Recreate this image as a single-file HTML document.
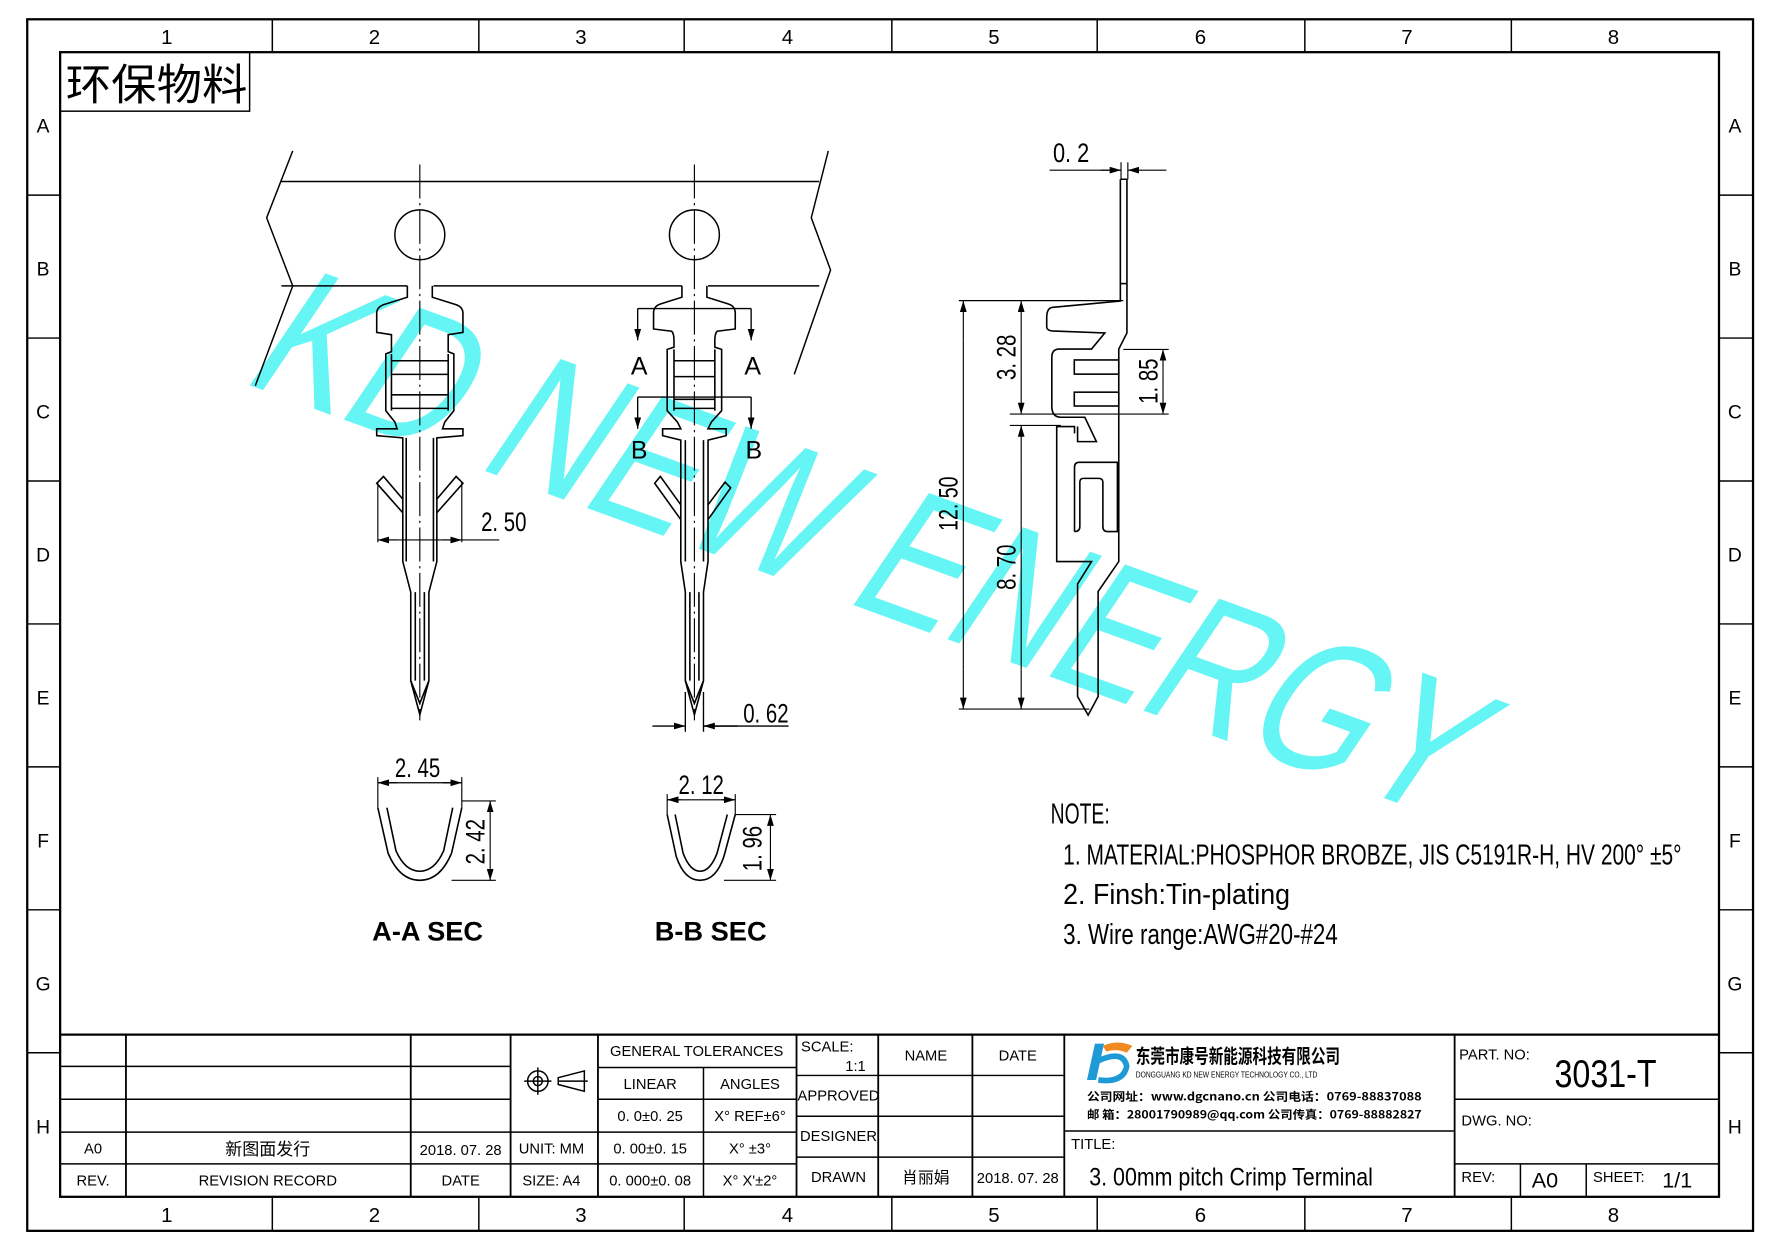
<!DOCTYPE html>
<html><head><meta charset="utf-8"><style>
html,body{margin:0;padding:0;background:#fff;}
svg{display:block;}
text{font-family:"Liberation Sans Narrow","Liberation Sans","Noto Sans CJK SC",sans-serif;fill:#000;}
.cn{font-family:"Noto Sans CJK SC","WenQuanYi Zen Hei",sans-serif;}
</style></head><body>
<svg width="1778" height="1249" viewBox="0 0 1567 1101" preserveAspectRatio="none" xmlns="http://www.w3.org/2000/svg">
<defs>
<marker id="ar" viewBox="0 0 10 6" refX="10" refY="3" markerWidth="10" markerHeight="6" orient="auto" markerUnits="userSpaceOnUse"><path d="M0,0 L10,3 L0,6 z" fill="#000"/></marker>
</defs>
<rect width="1567" height="1101" fill="#fff"/>
<g transform="translate(210,336) rotate(20) skewX(-14)">
<text x="0" y="0" font-size="168" textLength="1125" lengthAdjust="spacingAndGlyphs" style="font-family:'Liberation Sans',sans-serif;fill:#66f5f5">KD NEW ENERGY</text>
</g>
<g fill="none" stroke="#000" stroke-width="1.3">
<rect x="24" y="17" width="1521" height="1068" stroke-width="2"/>
<rect x="53" y="46" width="1462" height="1009" stroke-width="2"/>
<path d="M240,17V46M422,17V46M603,17V46M786,17V46M967,17V46M1150,17V46M1332,17V46"/>
<path d="M240,1055V1085M422,1055V1085M603,1055V1085M786,1055V1085M967,1055V1085M1150,1055V1085M1332,1055V1085"/>
<path d="M24,172H53M24,298H53M24,424H53M24,550H53M24,676H53M24,802H53M24,928H53"/>
<path d="M1515,172H1545M1515,298H1545M1515,424H1545M1515,550H1545M1515,676H1545M1515,802H1545M1515,928H1545"/>
<rect x="53" y="46" width="167" height="52"/>
<path d="M53,912H1515" stroke-width="2"/>
<path d="M111,912V1055M362,912V1055M450,912V1055M527,912V1055M702,912V1055M774,912V1055M857,912V1055M938,912V1055M1282,912V1055" stroke-width="1.6"/>
<path d="M53,940H450M53,969H450M53,998H527M53,1026H702"/>
<path d="M527,941H702M527,969H702M527,998H702M620,941V1055"/>
<path d="M702,948H938M702,984H938M702,1020H938"/>
<path d="M938,997H1282M1282,969H1515M1282,1026H1515M1340,1026V1055M1398,1026V1055"/>
<circle cx="474" cy="953" r="9"/><circle cx="474" cy="953" r="4"/><path d="M462,953H486M474,941V965M492,950L515,944V962L492,956Z M492,953H518"/>
<path d="M248,160H722"/>
<path d="M248,252H359M382,252H601M624,252H722"/>
<path d="M258,133L235,192L258,252L225,340"/>
<path d="M730,133L715,192L732,238L700,330"/>
<circle cx="370" cy="207" r="22"/><circle cx="612" cy="207" r="22"/>
</g>
<g stroke="#000" stroke-width="1" stroke-dasharray="30,4,2,4" fill="none">
<path d="M370,145V635M612,145V635"/>
</g>
<g fill="none" stroke="#000" stroke-width="1.4" transform="translate(370,0)">
<path d="M11,252V262L30,268Q38,270 38,276V293L25,295V310L30,312V362L22,372L20,378H38V384L15,386V495L8,522V600L0,630L-8,600V522L-15,495V386L-38,384V378H-20L-22,372L-30,362V312L-25,310V295L-38,293V276Q-38,270 -30,268L-11,262V252"/>
<path d="M-25,312V362M25,312V362M-25,318H25M-25,330H25M-25,348H25M-25,360H25"/>
<path d="M15,440L32,420L38,426L15,452M-15,440L-32,420L-38,426L-15,452"/>
<path d="M-12,386V495M12,386V495M-4,522V600M4,522V600M-8,600L0,620L8,600"/>
</g>
<g fill="none" stroke="#000" stroke-width="1">
<path d="M333,425V478M407,425V478"/>
<path d="M350,476H333" marker-end="url(#ar)"/><path d="M390,476H407" marker-end="url(#ar)"/>
<path d="M407,476H440"/><path d="M333,476H407"/>
</g>
<g fill="none" stroke="#000" stroke-width="1.4" transform="translate(612,0)">
<path d="M11,252V262L30,268Q36,270 36,276V290L20,292Q18,294 18,300V306L24,308V362L15,372L12,378H28V384L12,388V495L8,522V600L0,630L-8,600V522L-12,495V388L-28,384V378H-12L-15,372L-24,362V308L-18,306V300Q-18,294 -20,292L-36,290V276Q-36,270 -30,268L-11,262V252"/>
<path d="M-18,308V362M18,308V362M-18,318H18M-18,332H18M-18,352H18M-18,360H18"/>
<path d="M12,445L27,425L32,430L12,458M-12,445L-30,420L-35,426L-12,458"/>
<path d="M-8,388V495M8,388V495M-4,522V600M4,522V600M-8,600L0,620L8,600"/>
</g>
<g fill="none" stroke="#000" stroke-width="1.2">
<path d="M562,272H662"/><path d="M562,272V300" marker-end="url(#ar)"/><path d="M662,272V300" marker-end="url(#ar)"/>
<path d="M562,350H662"/><path d="M562,350V378" marker-end="url(#ar)"/><path d="M662,350V378" marker-end="url(#ar)"/>
<path d="M604,610V645M620,610V645"/>
<path d="M575,640H604" marker-end="url(#ar)"/><path d="M650,640H620" marker-end="url(#ar)"/><path d="M620,640H695"/>
</g>
<g fill="none" stroke="#000" stroke-width="1.4">
<path d="M987.4,158H993.2V293.5L986,307.7V495L967.8,521.4V614L959,630.4L949.7,614V514.8L962,495H931.3V376H947V382M987.4,158V265.4L927,271Q922.5,272 922.5,280V288Q922.5,292 929.8,291.8L973.7,293.5L962,307.7H933Q927,308 927,315V358Q927,367.8 935,367.8H956.1L966.3,389.3H949.7V376"/>
<path d="M987.4,250H993.2"/>
<rect x="946.8" y="317.3" width="39.2" height="12.5"/>
<rect x="946.8" y="345.7" width="39.2" height="12.2"/>
<path d="M947,468.6V412Q947,407.5 951,407.5H984.8V468.6H976Q972,468.6 972,464V425Q972,421.7 968,421.7H955Q951.7,421.7 951.7,425V464Q951.7,468.6 947,468.6 M984.8,407.5H986"/>
</g>
<g fill="none" stroke="#000" stroke-width="1">
<path d="M845,265H990M845,625H960M890,365H1030M890,375H935M990,308H1030"/>
<path d="M849,300V265" marker-end="url(#ar)"/><path d="M849,590V625" marker-end="url(#ar)"/><path d="M849,300V590"/>
<path d="M900,300V265" marker-end="url(#ar)"/><path d="M900,330V365" marker-end="url(#ar)"/><path d="M900,300V330"/>
<path d="M900,410V375" marker-end="url(#ar)"/><path d="M900,590V625" marker-end="url(#ar)"/><path d="M900,410V590"/>
<path d="M1025,330V308" marker-end="url(#ar)"/><path d="M1025,345V365" marker-end="url(#ar)"/><path d="M1025,330V345"/>
<path d="M988,143V158M994,143V158"/>
<path d="M925,150H988"/><path d="M970,150H988" marker-end="url(#ar)"/><path d="M1028,150H994" marker-end="url(#ar)"/>
</g>
<g fill="none" stroke="#000" stroke-width="1.4">
<path d="M333,712L342,752Q352,776 370,776Q388,776 398,752L407,712"/>
<path d="M341,712L349,750Q357,768 370,768Q383,768 391,750L399,712"/>
<path d="M588,718L596,755Q603,776 617,776Q631,776 638,755L648,718"/>
<path d="M595,718L602,752Q608,768 617,768Q626,768 632,752L641,718"/>
</g>
<g fill="none" stroke="#000" stroke-width="1">
<path d="M333,685V712M407,685V712M333,690H407"/><path d="M350,690H333" marker-end="url(#ar)"/><path d="M390,690H407" marker-end="url(#ar)"/>
<path d="M407,706H437M398,776H437"/><path d="M432,730V706" marker-end="url(#ar)"/><path d="M432,750V776" marker-end="url(#ar)"/><path d="M432,730V750"/>
<path d="M588,700V718M648,700V718M588,705H648"/><path d="M600,705H588" marker-end="url(#ar)"/><path d="M636,705H648" marker-end="url(#ar)"/>
<path d="M648,718H684M638,776H684"/><path d="M679,740V718" marker-end="url(#ar)"/><path d="M679,755V776" marker-end="url(#ar)"/><path d="M679,740V755"/>
</g>
<g font-size="18" text-anchor="middle">
<text x="147" y="39">1</text><text x="330" y="39">2</text><text x="512" y="39">3</text><text x="694" y="39">4</text><text x="876" y="39">5</text><text x="1058" y="39">6</text><text x="1240" y="39">7</text><text x="1422" y="39">8</text>
<text x="147" y="1077">1</text><text x="330" y="1077">2</text><text x="512" y="1077">3</text><text x="694" y="1077">4</text><text x="876" y="1077">5</text><text x="1058" y="1077">6</text><text x="1240" y="1077">7</text><text x="1422" y="1077">8</text>
</g>
<g font-size="17" text-anchor="middle">
<text x="38" y="117">A</text><text x="38" y="243">B</text><text x="38" y="369">C</text><text x="38" y="495">D</text><text x="38" y="621">E</text><text x="38" y="747">F</text><text x="38" y="873">G</text><text x="38" y="999">H</text>
<text x="1529" y="117">A</text><text x="1529" y="243">B</text><text x="1529" y="369">C</text><text x="1529" y="495">D</text><text x="1529" y="621">E</text><text x="1529" y="747">F</text><text x="1529" y="873">G</text><text x="1529" y="999">H</text>
</g>
<text x="58" y="88" font-size="38" class="cn" textLength="160" lengthAdjust="spacingAndGlyphs">环保物料</text>
<g font-size="24">
<text x="424" y="468" textLength="40" lengthAdjust="spacingAndGlyphs">2. 50</text>
<text x="655" y="637" textLength="40" lengthAdjust="spacingAndGlyphs">0. 62</text>
<text x="348" y="685" textLength="40" lengthAdjust="spacingAndGlyphs">2. 45</text>
<text x="598" y="700" textLength="40" lengthAdjust="spacingAndGlyphs">2. 12</text>
<text x="928" y="143" textLength="32" lengthAdjust="spacingAndGlyphs">0. 2</text>
<text transform="translate(427,762) rotate(-90)" textLength="40" lengthAdjust="spacingAndGlyphs">2. 42</text>
<text transform="translate(671,768) rotate(-90)" textLength="40" lengthAdjust="spacingAndGlyphs">1. 96</text>
<text transform="translate(844,468) rotate(-90)" textLength="48" lengthAdjust="spacingAndGlyphs">12. 50</text>
<text transform="translate(895,335) rotate(-90)" textLength="40" lengthAdjust="spacingAndGlyphs">3. 28</text>
<text transform="translate(895,520) rotate(-90)" textLength="40" lengthAdjust="spacingAndGlyphs">8. 70</text>
<text transform="translate(1020,356) rotate(-90)" textLength="40" lengthAdjust="spacingAndGlyphs">1. 85</text>
<text x="556" y="330" font-size="22">A</text><text x="656" y="330" font-size="22">A</text>
<text x="556" y="404" font-size="22">B</text><text x="657" y="404" font-size="22">B</text>
</g>
<g font-size="24" style="font-family:'Liberation Serif',serif;font-weight:bold">
<text x="328" y="829">A-A SEC</text><text x="577" y="829">B-B SEC</text>
</g>
<g font-size="25">
<text x="926" y="726" textLength="52" lengthAdjust="spacingAndGlyphs">NOTE:</text>
<text x="937" y="762" textLength="545" lengthAdjust="spacingAndGlyphs">1. MATERIAL:PHOSPHOR BROBZE, JIS C5191R-H, HV 200° ±5°</text>
<text x="937" y="797" textLength="200" lengthAdjust="spacingAndGlyphs">2. Finsh:Tin-plating</text>
<text x="937" y="832" textLength="242" lengthAdjust="spacingAndGlyphs">3. Wire range:AWG#20-#24</text>
</g>
<g font-size="13" text-anchor="middle">
<text x="82" y="1017">A0</text><text x="236" y="1018" class="cn" font-size="15">新图面发行</text><text x="406" y="1018">2018. 07. 28</text>
<text x="82" y="1045">REV.</text><text x="236" y="1045">REVISION RECORD</text><text x="406" y="1045">DATE</text>
<text x="614" y="931">GENERAL  TOLERANCES</text>
<text x="573" y="960">LINEAR</text><text x="661" y="960">ANGLES</text>
<text x="573" y="988">0. 0±0. 25</text><text x="661" y="988">X° REF±6°</text>
<text x="573" y="1017">0. 00±0. 15</text><text x="661" y="1017">X° ±3°</text>
<text x="573" y="1045">0. 000±0. 08</text><text x="661" y="1045">X° X'±2°</text>
<text x="486" y="1017">UNIT:  MM</text><text x="486" y="1045">SIZE:  A4</text>
<text x="816" y="935">NAME</text><text x="897" y="935">DATE</text>
<text x="739" y="970">APPROVED</text><text x="739" y="1006">DESIGNER</text><text x="739" y="1042">DRAWN</text>
<text x="816" y="1043" class="cn" font-size="14">肖丽娟</text><text x="897" y="1043">2018. 07. 28</text>
<text x="754" y="944">1:1</text>
</g>
<g font-size="13">
<text x="706" y="927">SCALE:</text>
<text x="944" y="1013">TITLE:</text>
<text x="1286" y="934">PART. NO:</text>
<text x="1288" y="992">DWG. NO:</text>
<text x="1288" y="1042">REV:</text>
<text x="1404" y="1042">SHEET:</text>
</g>
<text x="960" y="1045" font-size="22" textLength="250" lengthAdjust="spacingAndGlyphs">3. 00mm pitch Crimp Terminal</text>
<text x="1370" y="958" font-size="34" textLength="90" lengthAdjust="spacingAndGlyphs">3031-T</text>
<text x="1350" y="1047" font-size="19">A0</text>
<text x="1465" y="1047" font-size="19">1/1</text>
<path d="M965,920L958,952H966L973,920Z" fill="#1e9bd7"/>
<path d="M968,935Q990,925 993,940Q990,955 968,952" fill="none" stroke="#1e9bd7" stroke-width="5"/>
<path d="M972,922Q985,916 998,922L993,928Q984,924 975,927Z" fill="#f08a1e"/>
<text x="1001" y="937" font-size="17" class="cn" font-weight="bold" textLength="180" lengthAdjust="spacingAndGlyphs">东莞市康号新能源科技有限公司</text>
<text x="1001" y="950" font-size="7" textLength="160" lengthAdjust="spacingAndGlyphs">DONGGUANG KD NEW ENERGY TECHNOLOGY CO., LTD</text>
<text x="958" y="970" font-size="10" class="cn" font-weight="bold" textLength="295" lengthAdjust="spacingAndGlyphs">公司网址：www.dgcnano.cn        公司电话：0769-88837088</text>
<text x="958" y="986" font-size="10" class="cn" font-weight="bold" textLength="295" lengthAdjust="spacingAndGlyphs">邮    箱：28001790989@qq.com 公司传真：0769-88882827</text>
</svg>
</body></html>
